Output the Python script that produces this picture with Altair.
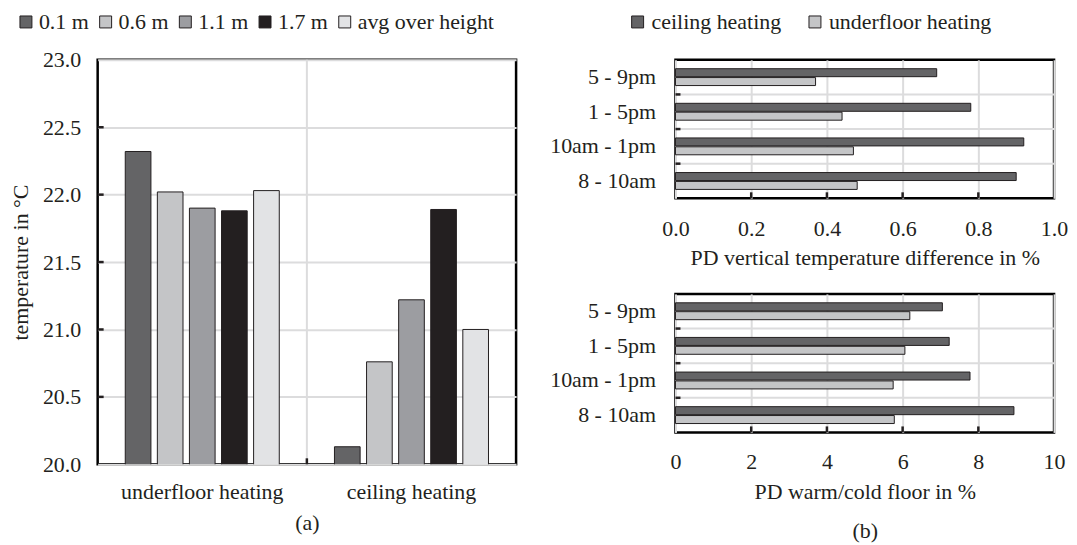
import altair as alt
import pandas as pd

# ---------------- data ----------------
systems_a = ["underfloor heating", "ceiling heating"]
levels = ["0.1 m", "0.6 m", "1.1 m", "1.7 m", "avg over height"]
temp_underfloor = [22.32, 22.02, 21.90, 21.88, 22.03]
temp_ceiling = [20.13, 20.76, 21.22, 21.89, 21.00]
temp_ticks = [20.0, 20.5, 21.0, 21.5, 22.0, 22.5, 23.0]

periods = ["5 - 9pm", "1 - 5pm", "10am - 1pm", "8 - 10am"]
systems_b = ["ceiling heating", "underfloor heating"]
pd_vert_ceiling = [0.69, 0.78, 0.92, 0.90]
pd_vert_underfloor = [0.37, 0.44, 0.47, 0.48]
pd_floor_ceiling = [7.05, 7.23, 7.78, 8.94]
pd_floor_underfloor = [6.19, 6.06, 5.75, 5.78]
vert_ticks = [0.0, 0.2, 0.4, 0.6, 0.8, 1.0]
floor_ticks = [0, 2, 4, 6, 8, 10]

# ---------------- styles ----------------
FONT = "Liberation Serif"
FS = 22
INK = "#231f20"
GRID = "#dcdcdd"
level_colors = ["#646466", "#c4c5c7", "#9c9da1", "#231f20", "#e2e3e5"]
system_colors = ["#646466", "#c4c5c7"]

LW, LH = 420, 406
RW, RH = 380, 139

# ---------------- panel (a) ----------------
rows = []
for s, vals in zip(systems_a, [temp_underfloor, temp_ceiling]):
    for lv, v in zip(levels, vals):
        rows.append({"system": s, "level": lv, "temp": v})
df_a = pd.DataFrame(rows)

xs_a = alt.Scale(domain=systems_a, paddingInner=0, paddingOuter=0)
xax_a = alt.Axis(title="(a)", labelAngle=0, ticks=False, domain=False,
                 grid=False, labelPadding=17, titlePadding=10)
ys_a = alt.Scale(domain=[20, 23], nice=False, zero=False)
yax_a = alt.Axis(title="temperature in °C", values=temp_ticks, format=".1f",
                 ticks=False, domain=False, grid=True, gridColor=GRID,
                 gridWidth=2, labelPadding=17, titlePadding=10)


def XA(**kw):
    return alt.X("system:N", sort=systems_a, scale=xs_a, axis=xax_a, **kw)


def YA(**kw):
    return alt.Y("temp:Q", scale=ys_a, axis=yax_a, **kw)


bars_a = alt.Chart(df_a).mark_bar(stroke=INK, strokeWidth=1, clip=True).encode(
    x=XA(),
    y=YA(),
    xOffset=alt.XOffset("level:N", sort=levels,
                        scale=alt.Scale(paddingInner=0.2, paddingOuter=0.86)),
    color=alt.Color("level:N", sort=levels,
                    scale=alt.Scale(domain=levels, range=level_colors),
                    legend=alt.Legend(title=None, orient="none", direction="horizontal",
                                      legendX=-83, legendY=-49, symbolType="square",
                                      symbolSize=144, symbolStrokeColor=INK,
                                      symbolStrokeWidth=1, labelFontSize=FS,
                                      labelFont=FONT, labelColor=INK, labelOffset=2,
                                      columnPadding=5, labelLimit=400)),
)

div_df = pd.DataFrame({"system": [systems_a[1]]})
div_a = alt.Chart(div_df).mark_rule(color=GRID, strokeWidth=2).encode(
    x=XA(bandPosition=0))
divtick_a = alt.Chart(div_df).mark_rule(color=INK, strokeWidth=2.5).encode(
    x=XA(bandPosition=0), y=alt.value(LH), y2=alt.value(LH - 6))
yt_a = alt.Chart(pd.DataFrame({"temp": temp_ticks[1:-1]})).mark_rule(
    color=INK, strokeWidth=2.5).encode(
    y=YA(), x=alt.value(0), x2=alt.value(6))

panel_a = alt.layer(div_a, bars_a, divtick_a, yt_a).properties(width=LW, height=LH)


# ---------------- panel (b) ----------------
def hpanel(ceiling, underfloor, ticks, fmt, title, legend, field, lpad, tpad):
    rows = []
    for p, c, u in zip(periods, ceiling, underfloor):
        rows.append({"period": p, "system": systems_b[0], field: c})
        rows.append({"period": p, "system": systems_b[1], field: u})
    df = pd.DataFrame(rows)
    ysc = alt.Scale(domain=periods, paddingInner=0, paddingOuter=0)
    yax = alt.Axis(title=None, ticks=False, domain=False, grid=False, labelPadding=20)
    xsc = alt.Scale(domain=[ticks[0], ticks[-1]], nice=False)
    axkw = dict(title=title, values=ticks, format=fmt, ticks=False,
                domain=False, grid=True, gridColor=GRID, gridWidth=2,
                labelPadding=lpad, titlePadding=tpad, labelFlush=False)
    if isinstance(title, list):
        axkw["titleLineHeight"] = 39
    xax = alt.Axis(**axkw)

    def YB(**kw):
        return alt.Y("period:N", sort=periods, scale=ysc, axis=yax, **kw)

    def XB(**kw):
        return alt.X(f"{field}:Q", scale=xsc, axis=xax, **kw)

    leg = None
    if legend:
        leg = alt.Legend(title=None, orient="none", direction="horizontal",
                         legendX=-49, legendY=-49, symbolType="square",
                         symbolSize=144, symbolStrokeColor=INK, symbolStrokeWidth=1,
                         labelFontSize=FS, labelFont=FONT, labelColor=INK,
                         labelOffset=3, columnPadding=22, labelLimit=400)
    bars = alt.Chart(df).mark_bar(stroke=INK, strokeWidth=1).encode(
        y=YB(),
        x=XB(),
        yOffset=alt.YOffset("system:N", sort=systems_b,
                            scale=alt.Scale(paddingInner=0.1, paddingOuter=1.0)),
        color=alt.Color("system:N", sort=systems_b,
                        scale=alt.Scale(domain=systems_b, range=system_colors),
                        legend=leg),
    )
    bdf = pd.DataFrame({"period": periods[1:]})
    hgrid = alt.Chart(bdf).mark_rule(color=GRID, strokeWidth=2).encode(
        y=YB(bandPosition=0))
    ytk = alt.Chart(bdf).mark_rule(color=INK, strokeWidth=2.5).encode(
        y=YB(bandPosition=0), x=alt.value(0), x2=alt.value(5))
    xtk = alt.Chart(pd.DataFrame({field: ticks[1:-1]})).mark_rule(
        color=INK, strokeWidth=2.5).encode(
        x=XB(), y=alt.value(RH), y2=alt.value(RH - 6))
    return alt.layer(hgrid, bars, ytk, xtk).properties(width=RW, height=RH)


panel_b1 = hpanel(pd_vert_ceiling, pd_vert_underfloor, vert_ticks, ".1f",
                  "PD vertical temperature difference in %", True, "pdv", 20, 8)
panel_b2 = hpanel(pd_floor_ceiling, pd_floor_underfloor, floor_ticks, "d",
                  ["PD warm/cold floor in %", "(b)"], False, "pdf", 19, 9)

right = alt.vconcat(panel_b1, panel_b2, spacing=22).resolve_scale(
    color="shared", x="independent", y="independent")

chart = alt.hconcat(panel_a, right, spacing=30).resolve_scale(
    color="independent", x="independent", y="independent",
    xOffset="independent", yOffset="independent"
).resolve_legend(color="independent").properties(
    padding={"top": 0, "left": 0, "right": 0, "bottom": 0}
).configure(font=FONT).configure_view(
    stroke="black", strokeWidth=2.5
).configure_axis(
    labelFont=FONT, titleFont=FONT, labelFontSize=FS, titleFontSize=FS,
    labelColor=INK, titleColor=INK, titleFontWeight="normal"
).configure_legend(labelFont=FONT)

chart.save("out.html", embed_options={"renderer": "svg", "actions": False})
